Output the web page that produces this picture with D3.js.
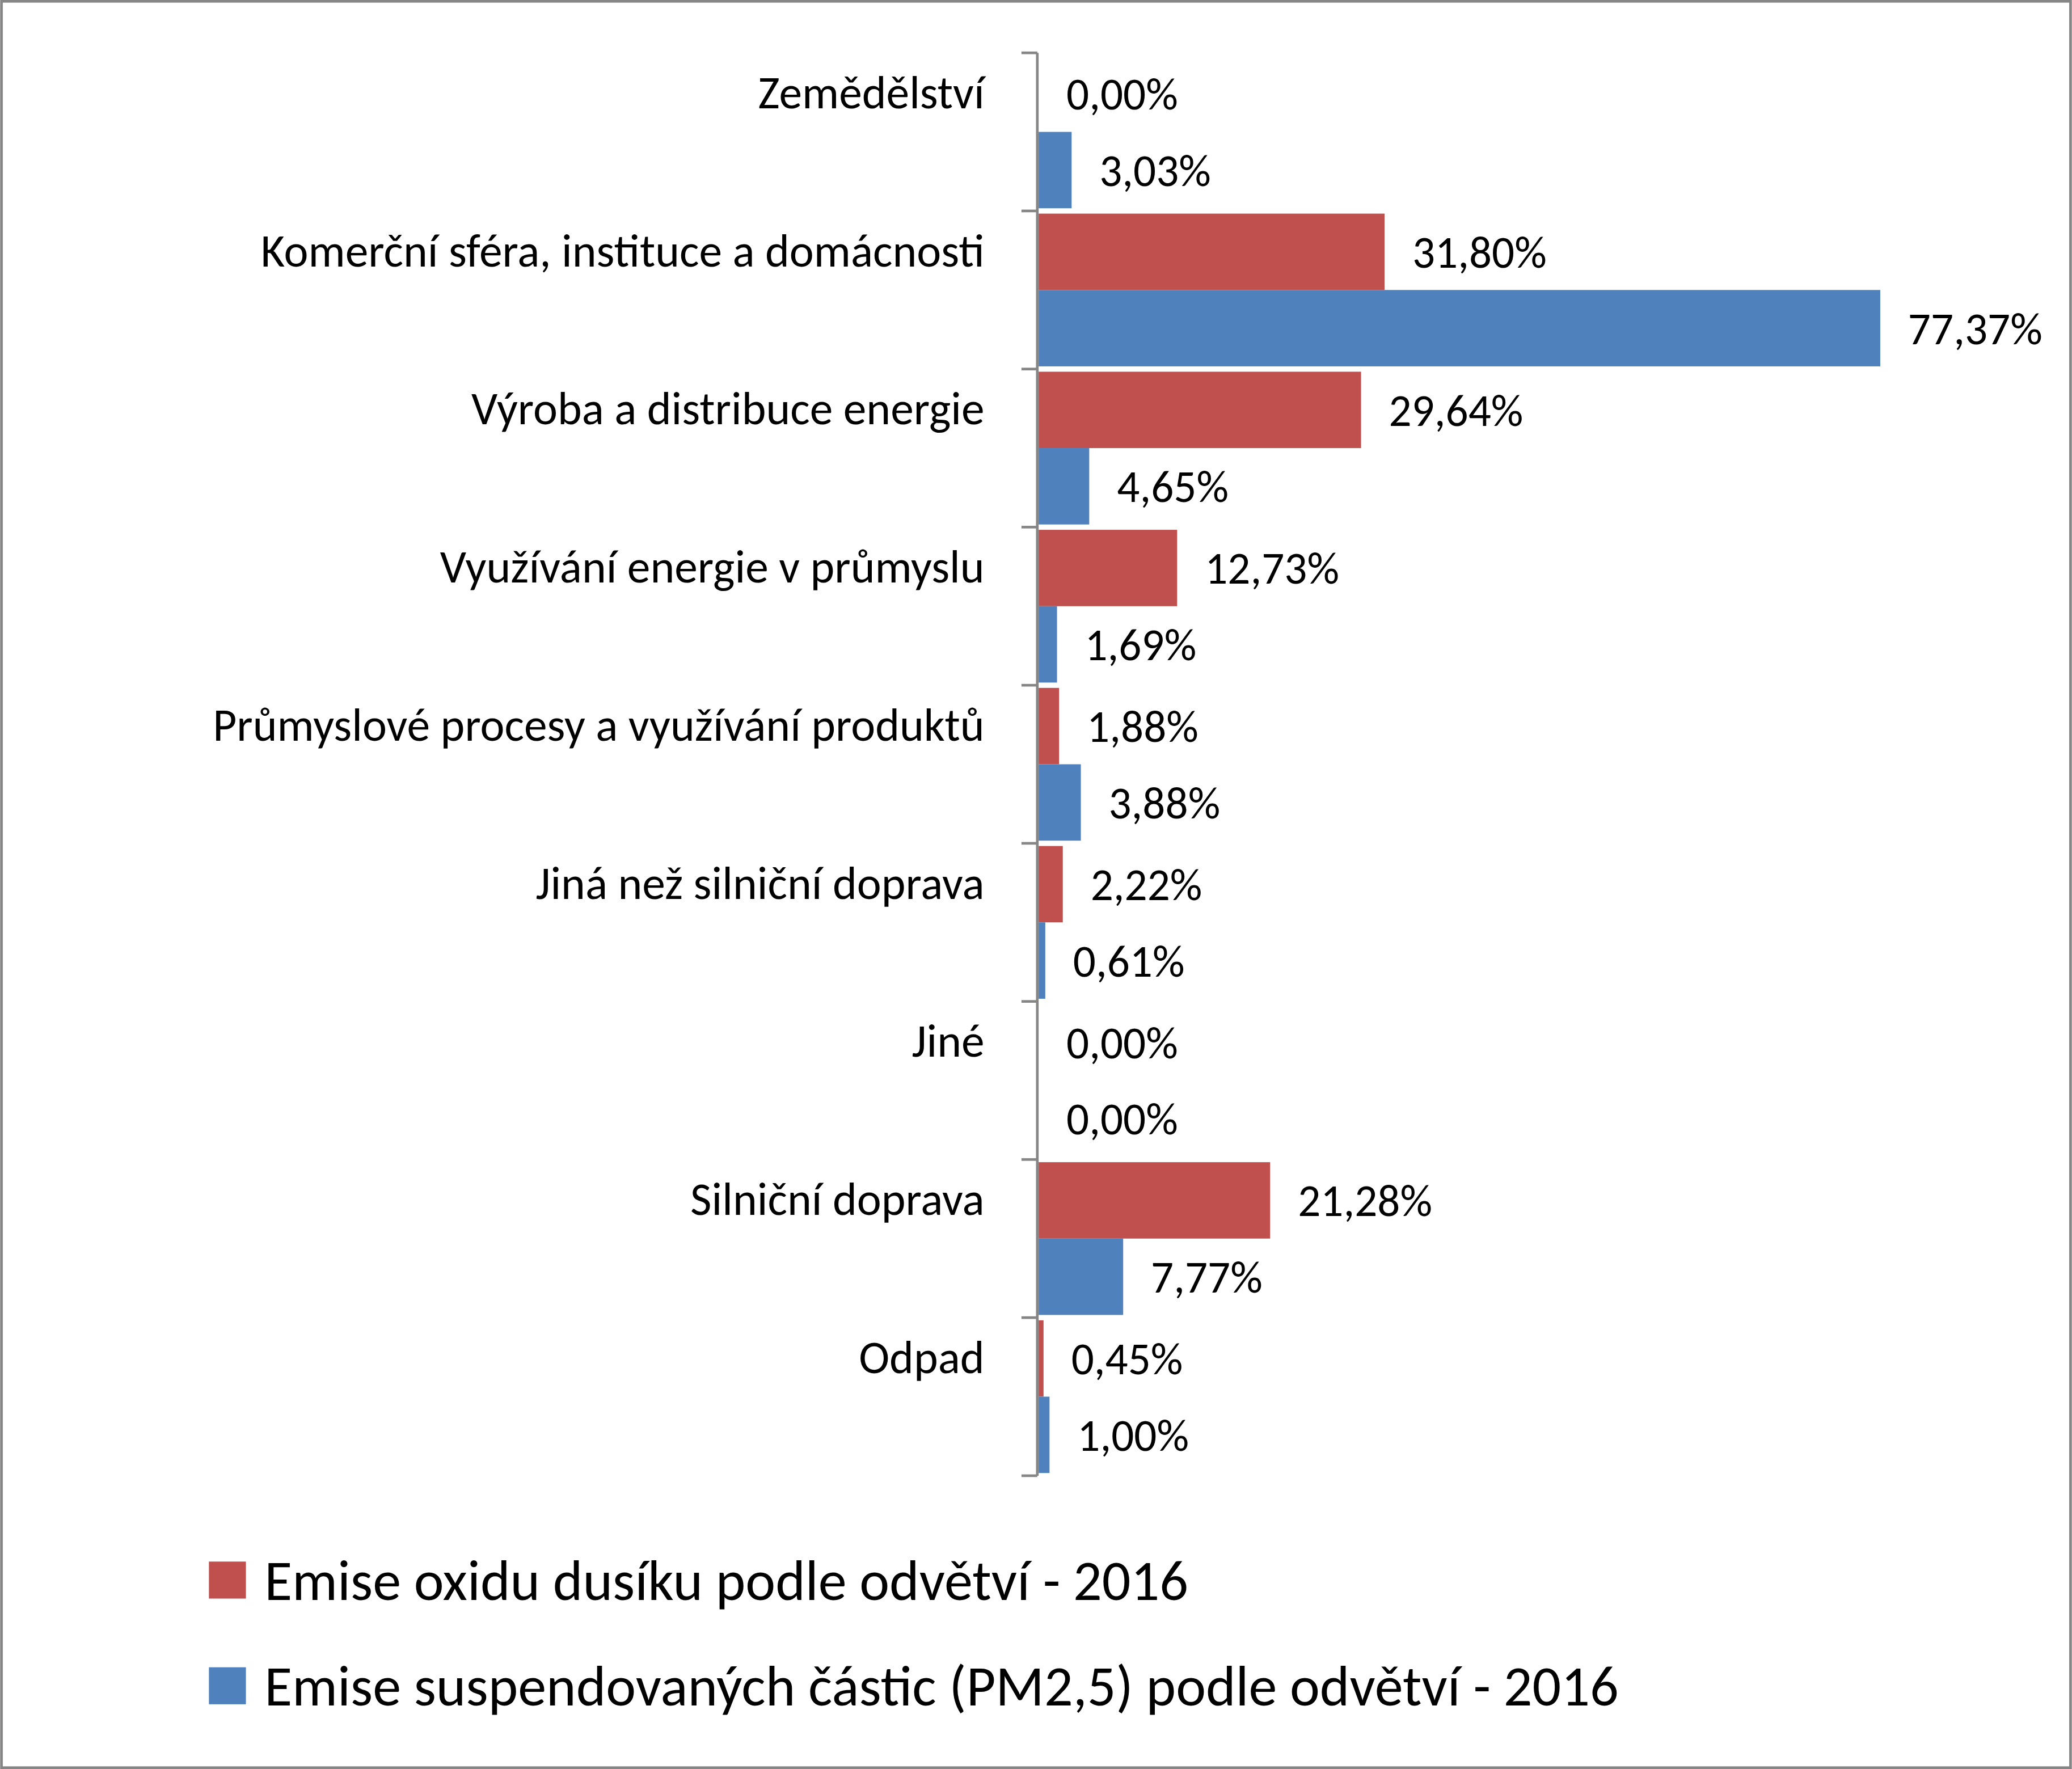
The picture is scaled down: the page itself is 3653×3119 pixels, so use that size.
<!DOCTYPE html>
<html><head><meta charset="utf-8">
<script src="https://cdn.jsdelivr.net/npm/d3@7"></script>
<style>body{margin:0;background:#fff}</style>
</head><body>
<svg id="chart" width="3653" height="3119" viewBox="0 0 1568 1339"></svg>
<script>
const categories = ["Zemědělství","Komerční sféra, instituce a domácnosti","Výroba a distribuce energie","Využívání energie v průmyslu","Průmyslové procesy a využívání produktů","Jiná než silniční doprava","Jiné","Silniční doprava","Odpad"];
const noxValues = [0.00,31.80,29.64,12.73,1.88,2.22,0.00,21.28,0.45];
const pmValues = [3.03,77.37,4.65,1.69,3.88,0.61,0.00,7.77,1.00];
const seriesNames = ["Emise oxidu dusíku podle odvětví - 2016","Emise suspendovaných částic (PM2,5) podle odvětví - 2016"];
const colors = ["#C0504D","#4F81BD"];

const svg = d3.select("#chart");
const font = "Carlito, 'Open Sans', sans-serif";
svg.append("rect").attr("x",1).attr("y",1).attr("width",1566).attr("height",1337)
  .attr("fill","#fff").attr("stroke","#868686").attr("stroke-width",2);

const y = d3.scaleBand().domain(categories).range([40,1117]);
const y1 = d3.scaleBand().domain([0,1]).range([0,y.bandwidth()]).paddingOuter(0.035).paddingInner(0);
const x = d3.scaleLinear().domain([0,77.37]).range([786,1423]);
const fmt = v => v.toFixed(2).replace(".",",") + "%";

const g = svg.append("g");
categories.forEach((c,i)=>{
  [noxValues[i],pmValues[i]].forEach((v,s)=>{
    const yy = y(c)+y1(s);
    g.append("rect").attr("x",x(0)).attr("y",yy).attr("width",x(v)-x(0)).attr("height",y1.bandwidth()).attr("fill",colors[s]);
    g.append("text").attr("x",x(v)+21).attr("y",yy+y1.bandwidth()/2+12)
      .attr("font-family",font).attr("font-size",34).attr("fill","#000").text(fmt(v));
  });
  g.append("text").attr("x",745).attr("y",y(c)+42).attr("text-anchor","end")
    .attr("font-family",font).attr("font-size",35).attr("fill","#000").text(c);
});

// axis
const ax = svg.append("g").attr("stroke","#868686").attr("stroke-width",2);
ax.append("line").attr("x1",785).attr("x2",785).attr("y1",40).attr("y2",1117);
d3.range(categories.length+1).forEach(i=>{
  const yy = i<categories.length ? y(categories[i]) : 1117;
  ax.append("line").attr("x1",773).attr("x2",785).attr("y1",yy).attr("y2",yy);
});

// legend
seriesNames.forEach((n,i)=>{
  const ly = 1182 + i*80;
  svg.append("rect").attr("x",158).attr("y",ly).attr("width",28).attr("height",28).attr("fill",colors[i]);
  svg.append("text").attr("x",200).attr("y",ly+29).attr("font-family",font).attr("font-size",43).attr("fill","#000").text(n);
});
</script>
</body></html>
